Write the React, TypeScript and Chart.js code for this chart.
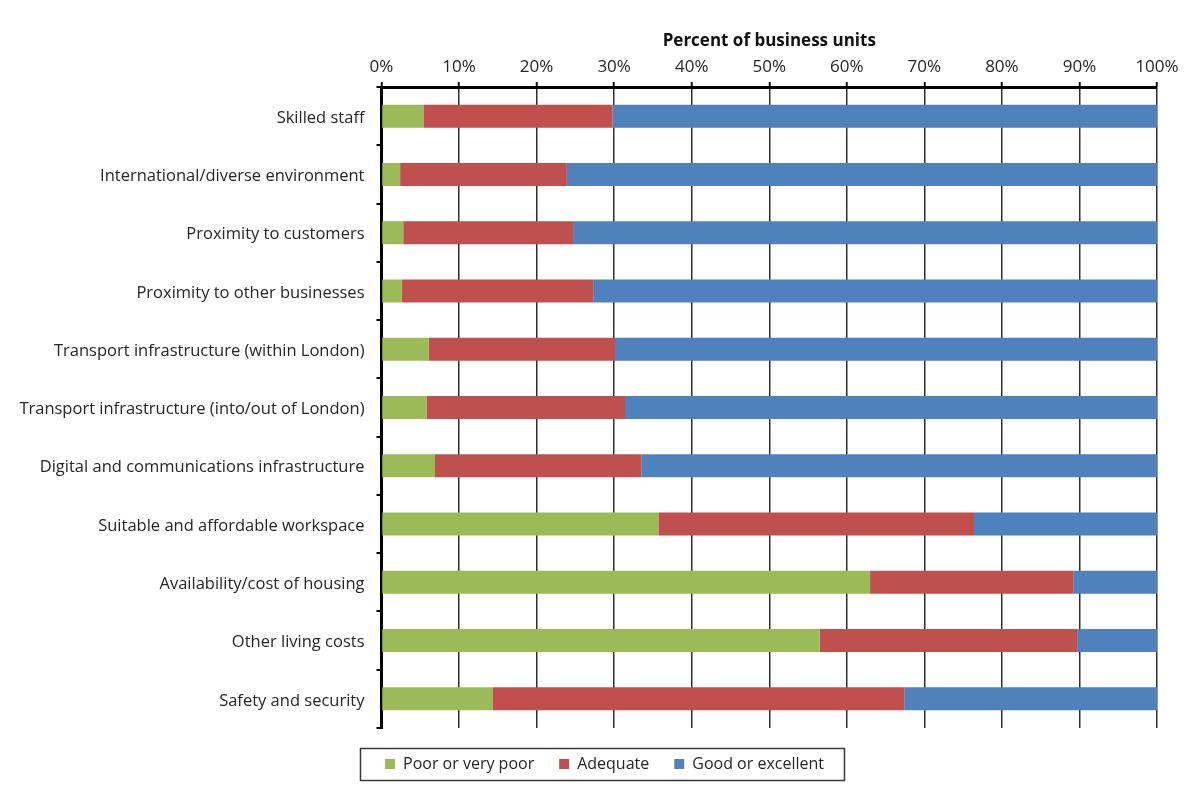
import React, { useEffect, useRef } from "react";
import { Chart, registerables } from "chart.js";

Chart.register(...registerables);

// Location factors rated by business units
const categories = [
  "Skilled staff",
  "International/diverse environment",
  "Proximity to customers",
  "Proximity to other businesses",
  "Transport infrastructure (within London)",
  "Transport infrastructure (into/out of London)",
  "Digital and communications infrastructure",
  "Suitable and affordable workspace",
  "Availability/cost of housing",
  "Other living costs",
  "Safety and security",
];

// Share of business units (%) giving each rating
const poorValues = [5.4, 2.4, 2.8, 2.6, 6.1, 5.8, 6.9, 35.7, 63.0, 56.5, 14.3];
const adequateValues = [24.4, 21.5, 21.9, 24.7, 24.0, 25.6, 26.6, 40.7, 26.2, 33.2, 53.1];
const goodValues = [70.2, 76.1, 75.3, 72.7, 69.9, 68.6, 66.5, 23.6, 10.8, 10.3, 32.6];

const seriesNames = ["Poor or very poor", "Adequate", "Good or excellent"];
const seriesColors = ["#9BBB59", "#C0504D", "#4F81BD"];

const percentTicks = [0, 10, 20, 30, 40, 50, 60, 70, 80, 90, 100];
const axisTitle = "Percent of business units";

const FONT = "'Open Sans', 'Noto Sans', sans-serif";
const TEXT = "#262626";

// Moves the legend under the middle of the page and frames its entries
const legendFrame = {
  id: "legendFrame",
  afterLayout(chart: any) {
    const lg = chart.legend;
    if (!lg) return;
    lg.left += 25;
    lg.right += 25;
    lg.top += 3;
    lg.bottom += 3;
  },
  afterDraw(chart: any) {
    const lg = chart.legend;
    if (!lg || !lg.legendHitBoxes || !lg.legendHitBoxes.length) return;
    const boxes = lg.legendHitBoxes;
    const left = Math.min(...boxes.map((b: any) => b.left)) - 25;
    const right = Math.max(...boxes.map((b: any) => b.left + b.width)) + 20;
    const mid = boxes[0].top + boxes[0].height / 2;
    const ctx = chart.ctx;
    ctx.save();
    ctx.strokeStyle = "#3a3a3a";
    ctx.lineWidth = 1.5;
    ctx.strokeRect(Math.round(left) + 0.5, Math.round(mid - 16) + 0.5, Math.round(right - left), 32);
    ctx.restore();
  },
};

export default function App() {
  const canvasRef = useRef<HTMLCanvasElement | null>(null);

  useEffect(() => {
    document.body.style.margin = "0";
    const canvas = canvasRef.current;
    if (!canvas) return;
    const chart = new Chart(canvas, {
      type: "bar",
      data: {
        labels: categories,
        datasets: [poorValues, adequateValues, goodValues].map((values, i) => ({
          label: seriesNames[i],
          data: values,
          backgroundColor: seriesColors[i],
          borderWidth: 0,
          barPercentage: 0.395,
          categoryPercentage: 1,
        })),
      },
      options: {
        indexAxis: "y",
        animation: false,
        responsive: true,
        maintainAspectRatio: false,
        events: [],
        layout: { padding: { left: 2, right: 32, top: 0, bottom: 7 } },
        scales: {
          x: {
            position: "top",
            stacked: true,
            min: 0,
            max: 100,
            afterBuildTicks: (scale: any) => {
              scale.ticks = percentTicks.map((v) => ({ value: v }));
            },
            afterFit: (scale: any) => {
              scale.height = 87;
            },
            ticks: {
              callback: (v: any) => `${v}%`,
              font: { family: FONT, size: 17 },
              color: TEXT,
              padding: 5,
              maxRotation: 0,
            },
            grid: {
              color: "#2e2e2e",
              lineWidth: 1.5,
              tickLength: 5,
              tickColor: "#111",
              tickWidth: 2,
            },
            border: { display: true, color: "#000", width: 3 },
            title: {
              display: true,
              text: axisTitle,
              font: { family: FONT, size: 17, weight: "bold" },
              color: "#111",
              padding: { top: 31, bottom: 0 },
            },
          },
          y: {
            stacked: true,
            afterFit: (scale: any) => {
              scale.width = 379.5;
            },
            ticks: {
              font: { family: FONT, size: 16.5 },
              color: TEXT,
              padding: 12,
              labelOffset: 2,
            },
            grid: {
              drawOnChartArea: false,
              drawTicks: true,
              tickLength: 5,
              color: "#000",
              lineWidth: 2,
              offset: true,
            },
            border: { display: true, color: "#000", width: 3 },
          },
        },
        plugins: {
          legend: {
            position: "bottom",
            labels: {
              boxWidth: 10,
              boxHeight: 10,
              padding: 25,
              font: { family: FONT, size: 16 },
              color: TEXT,
            },
          },
          tooltip: { enabled: false },
        },
      },
      plugins: [legendFrame],
    } as any);
    return () => chart.destroy();
  }, []);

  return (
    <div style={{ position: "absolute", left: 0, top: 0, width: 1189, height: 786 }}>
      <canvas ref={canvasRef} />
    </div>
  );
}
